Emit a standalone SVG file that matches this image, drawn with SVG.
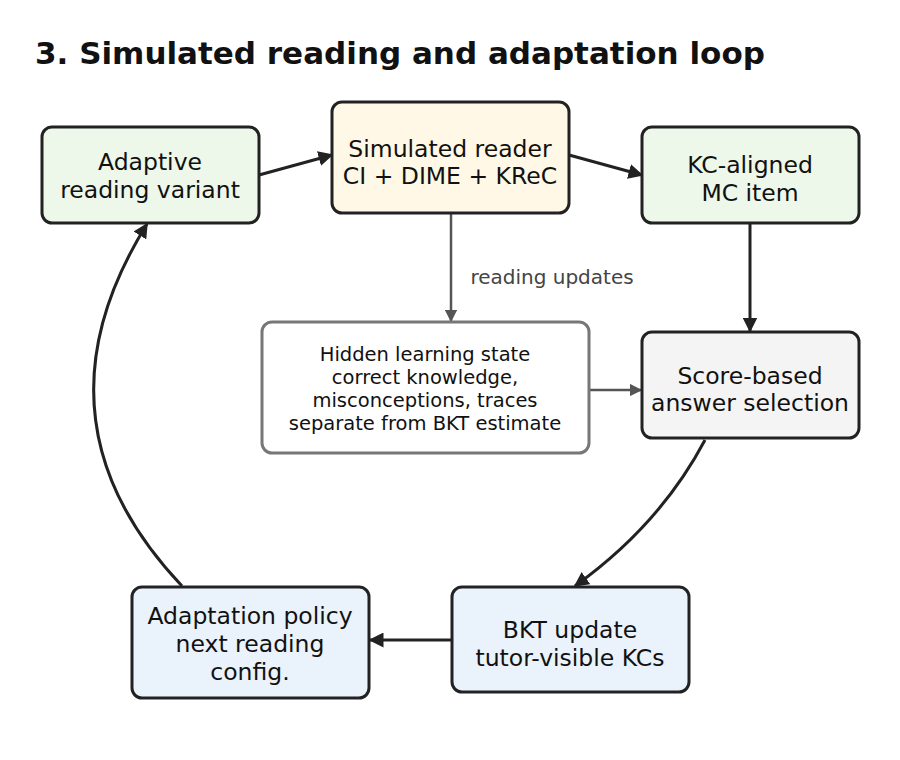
<svg xmlns="http://www.w3.org/2000/svg" width="900" height="760" viewBox="0 0 900 760">
<defs>
<marker id="ah" viewBox="0 0 10 10" refX="9" refY="5" markerWidth="5" markerHeight="5" orient="auto"><path d="M0,0 L10,5 L0,10 z" fill="#222"/></marker>
<marker id="ag" viewBox="0 0 10 10" refX="9" refY="5" markerWidth="5" markerHeight="5" orient="auto"><path d="M0,0 L10,5 L0,10 z" fill="#555"/></marker>
<style>
text{font-family:"DejaVu Sans",sans-serif;text-anchor:middle;fill:#111}
.n{stroke:#222;stroke-width:3}
.t{font-size:23.5px}
.s{font-size:19.5px}
.c{fill:none;stroke:#222;stroke-width:3;marker-end:url(#ah)}
.g{fill:none;stroke:#555;stroke-width:2.5;marker-end:url(#ag)}
</style>
</defs>
<rect width="900" height="760" fill="#fff"/>
<text x="35" y="64" style="font-size:31px;font-weight:bold;text-anchor:start">3. Simulated reading and adaptation loop</text>
<g id="connectors">
<path class="c" d="M259,175 L332,155"/>
<path class="c" d="M569,155 L642,175"/>
<path class="c" d="M750,223 L750,331"/>
<path class="g" d="M451,212 L451,321"/>
<path class="g" d="M589,390 L641,390"/>
<path class="c" d="M705,440 Q660,525 575,586"/>
<path class="c" d="M452,640 L370,640"/>
<path class="c" d="M182,586 Q25,420 147,224"/>
<text x="552" y="284" style="font-size:20px;fill:#444">reading updates</text>
</g>
<g id="adaptive"><rect class="n" x="42" y="127" width="217" height="96" rx="10" fill="#edf7ea"/><text class="t" x="150" y="170">Adaptive</text><text class="t" x="150" y="198">reading variant</text></g>
<g id="reader"><rect class="n" x="332" y="102" width="237" height="111" rx="10" fill="#fff8e7"/><text class="t" x="450" y="157">Simulated reader</text><text class="t" x="450" y="184">CI + DIME + KReC</text></g>
<g id="kcitem"><rect class="n" x="642" y="127" width="217" height="96" rx="10" fill="#edf7ea"/><text class="t" x="750" y="173">KC-aligned</text><text class="t" x="750" y="201">MC item</text></g>
<g id="hidden"><rect x="262" y="322" width="327" height="131" rx="10" fill="#fff" stroke="#777" stroke-width="3"/><text class="s" x="425" y="361">Hidden learning state</text><text class="s" x="425" y="384">correct knowledge,</text><text class="s" x="425" y="407">misconceptions, traces</text><text class="s" x="425" y="430">separate from BKT estimate</text></g>
<g id="score"><rect class="n" x="642" y="332" width="217" height="106" rx="10" fill="#f4f4f4"/><text class="t" x="750" y="384">Score-based</text><text class="t" x="750" y="411">answer selection</text></g>
<g id="bkt"><rect class="n" x="452" y="587" width="237" height="105" rx="10" fill="#eaf2fb"/><text class="t" x="570" y="638">BKT update</text><text class="t" x="570" y="666">tutor-visible KCs</text></g>
<g id="policy"><rect class="n" x="132" y="587" width="237" height="111" rx="10" fill="#eaf2fb"/><text class="t" x="250" y="624">Adaptation policy</text><text class="t" x="250" y="652">next reading</text><text class="t" x="250" y="680">config.</text></g>
</svg>
